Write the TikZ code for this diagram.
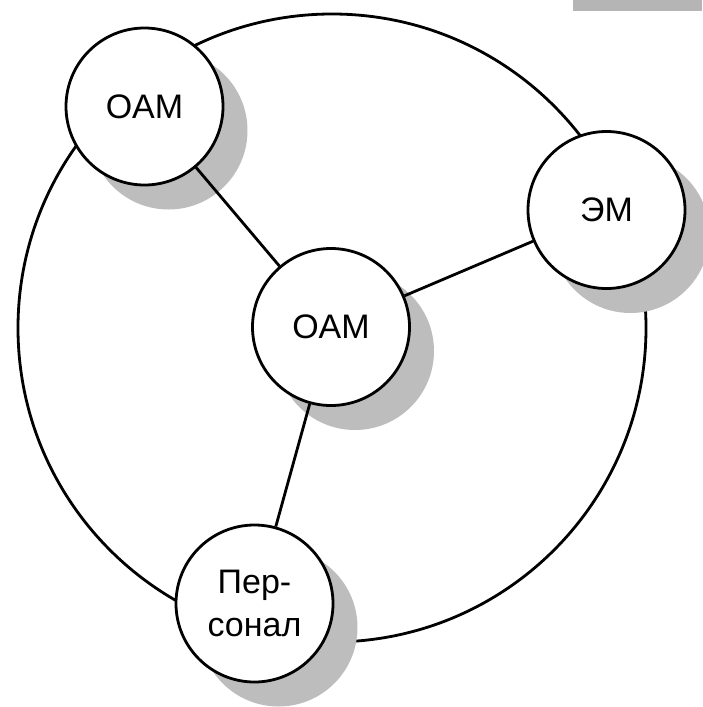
\documentclass[tikz,border=0pt]{standalone}
\usepackage{fontspec}
\setmainfont{Liberation Sans}
\pgfdeclarelayer{bgzero}
\pgfdeclarelayer{bgone}
\pgfsetlayers{bgzero,bgone,main}
\begin{document}
\begin{tikzpicture}[x=1pt,y=-1pt,
  unit/.style={circle, draw=black, line width=2.8pt, fill=white, minimum size=157pt,
    inner sep=0pt, align=center, font=\fontsize{34}{43}\selectfont},
  shadowfill/.style={fill=black!26, draw=none},
  conn/.style={line width=2.8pt, draw=black},
  ring/.style={line width=2.8pt, draw=black}]
\useasboundingbox (0,0) rectangle (702,707);
% nodes
\node[unit] (oamtl) at (144.5,106.5) {OAM};
\node[unit] (oamc)  at (331,327) {OAM};
\node[unit] (em)    at (606.5,210) {ЭМ};
\node[unit] (pers)  at (254.5,603.5) {Пер-\\сонал};
\coordinate (ringc) at (332,328);
\begin{pgfonlayer}{bgzero}
  \fill[black!29] (573,0) rectangle (702,10.5);
  \draw[ring] (ringc) circle[radius=314];
  \foreach \n in {oamtl,oamc,em,pers}
    \fill[shadowfill] ([shift={(24,24)}]\n.center) circle[radius=79];
\end{pgfonlayer}
\begin{pgfonlayer}{bgone}
  \draw[conn] (oamtl) -- (oamc);
  \draw[conn] (oamc) -- (em);
  \draw[conn] (oamc) -- (pers);
\end{pgfonlayer}
\end{tikzpicture}
\end{document}
